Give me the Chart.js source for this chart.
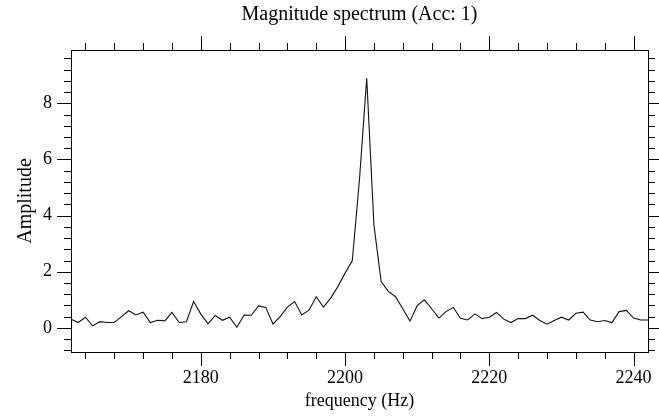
<!DOCTYPE html>
<html>
<head>
<meta charset="utf-8">
<script src="https://cdn.jsdelivr.net/npm/chart.js@4.4.1/dist/chart.umd.min.js"></script>
<style>
  html, body { margin: 0; padding: 0; background: #fff; }
  #wrap { width: 659px; height: 417px; }
</style>
</head>
<body>
<div id="wrap"><canvas id="spectrum" width="659" height="417"></canvas></div>
<script>
// frequency bins (Hz)
const frequencies = [
  2162, 2163, 2164, 2165, 2166, 2167, 2168, 2169, 2170, 2171,
  2172, 2173, 2174, 2175, 2176, 2177, 2178, 2179, 2180, 2181,
  2182, 2183, 2184, 2185, 2186, 2187, 2188, 2189, 2190, 2191,
  2192, 2193, 2194, 2195, 2196, 2197, 2198, 2199, 2200, 2201,
  2202, 2203, 2204, 2205, 2206, 2207, 2208, 2209, 2210, 2211,
  2212, 2213, 2214, 2215, 2216, 2217, 2218, 2219, 2220, 2221,
  2222, 2223, 2224, 2225, 2226, 2227, 2228, 2229, 2230, 2231,
  2232, 2233, 2234, 2235, 2236, 2237, 2238, 2239, 2240, 2241,
  2242
];

// amplitude
const amplitudes = [
  0.31, 0.19, 0.38, 0.07, 0.22, 0.19, 0.19, 0.40, 0.61, 0.46,
  0.56, 0.19, 0.27, 0.25, 0.55, 0.19, 0.22, 0.94, 0.49, 0.14,
  0.44, 0.27, 0.38, 0.02, 0.46, 0.45, 0.78, 0.73, 0.14, 0.40,
  0.74, 0.94, 0.46, 0.63, 1.11, 0.74, 1.06, 1.47, 1.95, 2.39,
  5.30, 8.89, 3.67, 1.65, 1.30, 1.11, 0.68, 0.24, 0.79, 1.00,
  0.68, 0.35, 0.58, 0.73, 0.34, 0.28, 0.50, 0.33, 0.38, 0.55,
  0.31, 0.19, 0.33, 0.33, 0.45, 0.26, 0.13, 0.26, 0.38, 0.28,
  0.52, 0.56, 0.28, 0.22, 0.26, 0.19, 0.58, 0.62, 0.35, 0.28,
  0.28
];

const xLabels = [2180, 2200, 2220, 2240];
const yLabels = [0, 2, 4, 6, 8];

const fontFamily = '"Liberation Serif", "Times New Roman", serif';

// tick marks outside the frame, on all four sides
const frameTicks = {
  id: 'frameTicks',
  afterDraw(chart) {
    const { ctx, chartArea: a, scales: { x, y } } = chart;
    ctx.save();
    ctx.strokeStyle = '#000';
    ctx.lineWidth = 1;
    ctx.strokeRect(Math.round(a.left) + 0.5, Math.round(a.top) + 0.5,
      Math.round(a.right - a.left), Math.round(a.bottom - a.top));

    ctx.beginPath();
    for (let v = 2164; v <= x.max; v += 4) {
      const px = Math.round(x.getPixelForValue(v)) + 0.5;
      const len = v % 20 === 0 ? 14 : 7;
      ctx.moveTo(px, a.bottom); ctx.lineTo(px, a.bottom + len);
      ctx.moveTo(px, a.top); ctx.lineTo(px, a.top - len);
    }
    for (let i = -2; i <= 24; i++) {
      const v = i * 0.4;
      if (v < y.min || v > y.max) continue;
      const py = Math.round(y.getPixelForValue(v)) + 0.5;
      const len = i % 5 === 0 ? 14 : 7;
      ctx.moveTo(a.left, py); ctx.lineTo(a.left - len, py);
      ctx.moveTo(a.right, py); ctx.lineTo(a.right + len, py);
    }
    ctx.stroke();
    ctx.restore();
  }
};

new Chart(document.getElementById('spectrum'), {
  type: 'line',
  data: {
    datasets: [{
      data: frequencies.map((f, i) => ({ x: f, y: amplitudes[i] })),
      borderColor: '#111',
      borderWidth: 1.1,
      pointRadius: 0,
      tension: 0,
      fill: false
    }]
  },
  options: {
    responsive: false,
    animation: false,
    layout: { padding: { left: 0, right: 11, top: 0, bottom: 0 } },
    plugins: {
      legend: { display: false },
      tooltip: { enabled: false }
    },
    scales: {
      x: {
        type: 'linear',
        min: 2162,
        max: 2242,
        grid: { display: false, drawTicks: false },
        border: { display: false },
        afterBuildTicks: s => { s.ticks = xLabels.map(v => ({ value: v })); },
        afterFit: s => { s.height = 65; s.paddingLeft = 0; s.paddingRight = 0; },
        ticks: {
          color: '#000',
          padding: 15,
          maxRotation: 0,
          font: { family: fontFamily, size: 18 },
          callback: v => String(v)
        },
        title: {
          display: true,
          text: 'frequency (Hz)',
          color: '#000',
          font: { family: fontFamily, size: 18 },
          padding: { top: 0, bottom: 5 }
        }
      },
      // top axis only carries the chart title, centred over the plot frame
      top: {
        type: 'linear',
        position: 'top',
        min: 2162,
        max: 2242,
        grid: { display: false, drawTicks: false },
        border: { display: false },
        ticks: { display: false },
        afterFit: s => { s.height = 50; s.paddingLeft = 0; s.paddingRight = 0; },
        title: {
          display: true,
          text: 'Magnitude spectrum (Acc: 1)',
          color: '#000',
          font: { family: fontFamily, size: 20 },
          padding: { top: 3, bottom: 0 }
        }
      },
      y: {
        min: -0.86,
        max: 9.9,
        grid: { display: false, drawTicks: false },
        border: { display: false },
        afterBuildTicks: s => { s.ticks = yLabels.map(v => ({ value: v })); },
        afterFit: s => { s.width = 71; s.paddingTop = 0; s.paddingBottom = 0; },
        ticks: {
          color: '#000',
          padding: 19,
          font: { family: fontFamily, size: 18 },
          callback: v => String(v)
        },
        title: {
          display: true,
          text: 'Amplitude',
          color: '#000',
          font: { family: fontFamily, size: 20 },
          padding: { top: 14, bottom: 0 }
        }
      }
    }
  },
  plugins: [frameTicks]
});
</script>
</body>
</html>
